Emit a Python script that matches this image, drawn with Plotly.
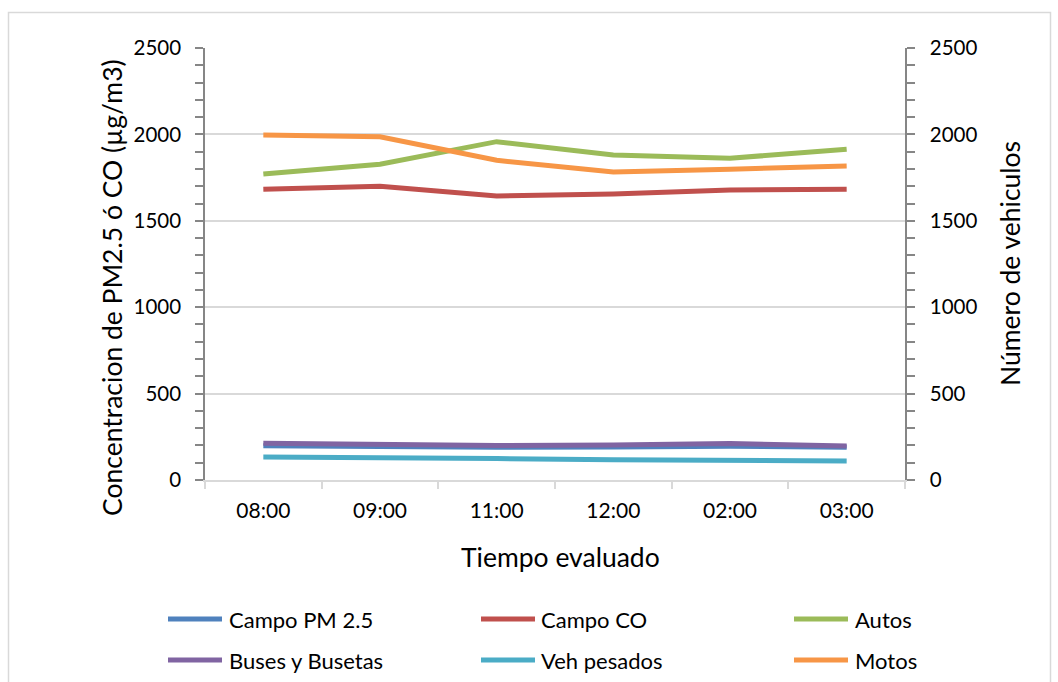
import plotly.graph_objects as go

# Categories and measured series
tiempos = ["08:00", "09:00", "11:00", "12:00", "02:00", "03:00"]

campo_pm25 = [198, 192, 189, 191, 196, 190]
campo_co = [1682, 1700, 1644, 1655, 1678, 1682]
autos = [1771, 1827, 1958, 1881, 1862, 1914]
buses_busetas = [213, 204, 200, 203, 211, 197]
veh_pesados = [133, 131, 124, 117, 110, 110]
motos = [1997, 1986, 1850, 1783, 1799, 1817]

y_ticks = [0, 500, 1000, 1500, 2000, 2500]

FONT = "Lato"
AXIS_GREY = "#868686"
LIGHT_GREY = "#d9d9d9"

series = [
    ("Campo PM 2.5", campo_pm25, "#4F81BD", "y"),
    ("Campo CO", campo_co, "#C0504D", "y"),
    ("Autos", autos, "#9BBB59", "y2"),
    ("Buses y Busetas", buses_busetas, "#8064A2", "y2"),
    ("Veh pesados", veh_pesados, "#4BACC6", "y2"),
    ("Motos", motos, "#F79646", "y2"),
]

fig = go.Figure()
for name, vals, color, yax in series:
    fig.add_trace(go.Scatter(
        x=tiempos, y=vals, name=name, mode="lines", yaxis=yax,
        line=dict(color=color, width=5), showlegend=False,
    ))

# plot area in pixels
W, H = 1058, 682
L, R, T, B = 205, 905, 48, 480


def px_x(p):
    return (p - L) / (R - L)


def px_y(p):
    return (B - p) / (B - T)


common_y = dict(range=[0, 2500], tickvals=y_ticks, zeroline=False, fixedrange=True)

fig.update_layout(
    width=W, height=H,
    margin=dict(l=L, r=W - R, t=T, b=H - B),
    paper_bgcolor="white", plot_bgcolor="white",
    font=dict(family=FONT, color="#000000"),
    xaxis=dict(
        type="category", categoryorder="array", categoryarray=tiempos,
        range=[-0.5, 5.5], showgrid=False, zeroline=False,
        showline=True, linecolor=LIGHT_GREY, linewidth=1.5,
        ticks="outside", ticklen=7, tickcolor=LIGHT_GREY, tickwidth=1.5,
        tickson="boundaries", tickfont=dict(size=21, family=FONT),
        ticklabelstandoff=11,
    ),
    yaxis=dict(
        **common_y, side="left",
        showgrid=True, gridcolor=LIGHT_GREY, gridwidth=1.5,
        showline=True, linecolor=AXIS_GREY, linewidth=1.5,
        ticks="outside", ticklen=8, tickcolor=AXIS_GREY, tickwidth=1.5,
        minor=dict(dtick=100, ticks="outside", ticklen=8, tickcolor=AXIS_GREY,
                   tickwidth=1.5, showgrid=False),
        tickfont=dict(size=20.5, family=FONT), ticklabelstandoff=10,
    ),
    yaxis2=dict(
        **common_y, side="right", overlaying="y", anchor="x",
        showgrid=False,
        showline=True, linecolor=AXIS_GREY, linewidth=1.5,
        ticks="outside", ticklen=8, tickcolor=AXIS_GREY, tickwidth=1.5,
        minor=dict(dtick=100, ticks="outside", ticklen=8, tickcolor=AXIS_GREY,
                   tickwidth=1.5, showgrid=False),
        tickfont=dict(size=20.5, family=FONT), ticklabelstandoff=11,
    ),
    yaxis3=dict(
        **common_y, side="left", overlaying="y", anchor="x",
        showgrid=False, showline=False, showticklabels=False,
        ticks="inside", ticklen=5, tickcolor=AXIS_GREY, tickwidth=1.5,
        minor=dict(dtick=100, ticks="inside", ticklen=5, tickcolor=AXIS_GREY,
                   tickwidth=1.5, showgrid=False),
    ),
    yaxis4=dict(
        **common_y, side="right", overlaying="y", anchor="x",
        showgrid=False, showline=False, showticklabels=False,
        ticks="inside", ticklen=5, tickcolor=AXIS_GREY, tickwidth=1.5,
        minor=dict(dtick=100, ticks="inside", ticklen=5, tickcolor=AXIS_GREY,
                   tickwidth=1.5, showgrid=False),
    ),
    showlegend=False,
)

shapes = []
annotations = []

# chart frame
shapes.append(dict(
    type="rect", xref="paper", yref="paper", layer="below",
    x0=px_x(8.5), x1=px_x(1050.5), y0=px_y(700), y1=px_y(12.5),
    line=dict(color=LIGHT_GREY, width=1.5), fillcolor="rgba(0,0,0,0)",
))

# axis titles
annotations.append(dict(
    text="Tiempo evaluado", xref="paper", yref="paper",
    x=px_x(560), y=px_y(557), showarrow=False,
    font=dict(size=26.5, family=FONT), xanchor="center", yanchor="middle",
))
annotations.append(dict(
    text="Concentracion de PM2.5 ó CO (µg/m3)", xref="paper", yref="paper",
    x=px_x(112), y=px_y(287), showarrow=False, textangle=-90,
    font=dict(size=26.5, family=FONT), xanchor="center", yanchor="middle",
))
annotations.append(dict(
    text="Número de vehiculos", xref="paper", yref="paper",
    x=px_x(1010), y=px_y(263), showarrow=False, textangle=-90,
    font=dict(size=26.5, family=FONT), xanchor="center", yanchor="middle",
))

# legend: 3 columns x 2 rows
col_line_x = [168, 481, 794]
col_text_x = [227, 539, 853]
row_y = [619, 660]
for i, (name, vals, color, yax) in enumerate(series):
    r, c = divmod(i, 3)
    shapes.append(dict(
        type="line", xref="paper", yref="paper",
        x0=px_x(col_line_x[c]), x1=px_x(col_line_x[c] + 54),
        y0=px_y(row_y[r]), y1=px_y(row_y[r]),
        line=dict(color=color, width=5),
    ))
    annotations.append(dict(
        text=name, xref="paper", yref="paper",
        x=px_x(col_text_x[c]), y=px_y(row_y[r]), showarrow=False,
        font=dict(size=22, family=FONT), xanchor="left", yanchor="middle",
    ))

fig.update_layout(shapes=shapes, annotations=annotations)

fig.write_html("out.html")
